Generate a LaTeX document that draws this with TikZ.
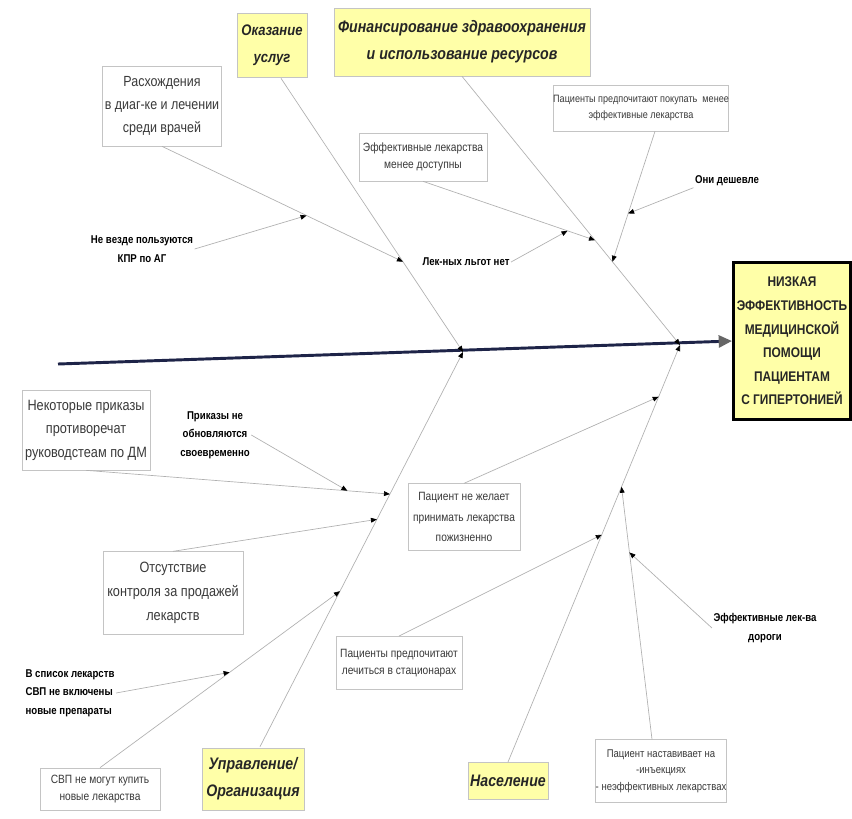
\documentclass[tikz,border=0pt]{standalone}
\usepackage{fontspec}
\setmainfont{Liberation Sans}
\newfontfamily\nar{Liberation Sans}[FakeStretch=0.85]
\usetikzlibrary{arrows.meta,calc}
\definecolor{lineg}{HTML}{B0B0B0}
\definecolor{boxg}{HTML}{C4C4C4}
\definecolor{txtg}{HTML}{3A3A3A}
\definecolor{yel}{HTML}{FFFFA8}
\definecolor{spinec}{HTML}{1E2448}
\begin{document}
\begin{tikzpicture}[x=0.75pt,y=-0.75pt,
  bbox/.style={draw=boxg, line width=0.5pt, fill=white, align=center, inner sep=0pt, text=txtg, font=\nar\fontsize{11.5}{17.5}\selectfont},
  sbox/.style={bbox, font=\nar\fontsize{9}{13}\selectfont},
  blab/.style={align=center, inner sep=1pt, text=black, font=\nar\bfseries\fontsize{8.5}{14}\selectfont},
  cat/.style={draw=boxg, line width=0.5pt, fill=yel, align=center, inner sep=0pt, text=black!85, font=\nar\bfseries\itshape\fontsize{12.5}{20}\selectfont},
  conn/.style={draw=lineg, line width=0.5pt, -{Triangle[length=4.5pt,width=3.6pt,color=black]}},
  spine/.style={draw=spinec, line width=2.2pt, -{Triangle[length=10pt,width=9pt,color=black!60]}}
]
\fill[white] (0,0) rectangle (852,818);
\useasboundingbox (0,0) rectangle (852,818);

% effect
\node[draw=black, line width=2pt, fill=yel, align=center, inner sep=0pt, minimum width=88pt, minimum height=118pt, font=\nar\bfseries\fontsize{10.5}{17.7}\selectfont, text=black!85] (eff) at (792,341)
  {НИЗКАЯ\\ЭФФЕКТИВНОСТЬ\\МЕДИЦИНСКОЙ\\ПОМОЩИ\\ПАЦИЕНТАМ\\С ГИПЕРТОНИЕЙ};

% categories
\node[cat, minimum width=52.5pt, minimum height=48pt, font=\nar\bfseries\itshape\fontsize{11.5}{20}\selectfont] (oz) at (272,45) {Оказание\\услуг};
\node[cat, minimum width=192pt, minimum height=51pt] (fin) at (462,42) {Финансирование здравоохранения\\и использование ресурсов};
\node[cat, minimum width=76.5pt, minimum height=46.5pt] (up) at (253,779) {Управление/\\Организация};
\node[cat, minimum width=60pt, minimum height=28pt] (nas) at (508,781) {Население};

% cause boxes
\node[bbox, minimum width=89pt, minimum height=60pt, font=\nar\fontsize{11}{17.5}\selectfont] (r1) at (162,106) {Расхождения\\в диаг-ке и лечении\\среди врачей};
\node[sbox, minimum width=96pt, minimum height=36pt] (el) at (423,157) {Эффективные лекарства\\менее доступны};
\node[sbox, minimum width=129pt, minimum height=34.5pt, font=\nar\fontsize{8}{11.5}\selectfont] (pp) at (641,108) {Пациенты предпочитают покупать\ \ менее\\эффективные лекарства};
\node[bbox, minimum width=96pt, minimum height=60pt, font=\nar\fontsize{11.2}{17.6}\selectfont] (nk) at (86,430) {Некоторые приказы\\противоречат\\руководстеам по ДМ};
\node[bbox, minimum width=105pt, minimum height=62pt, font=\nar\fontsize{11.2}{18}\selectfont] (ot) at (173,593) {Отсутствие\\контроля за продажей\\лекарств};
\node[sbox, minimum width=90pt, minimum height=31.5pt] (sv) at (100,789) {СВП не могут купить\\новые лекарства};
\node[sbox, minimum width=84pt, minimum height=50pt, font=\nar\fontsize{9}{15.5}\selectfont] (pn) at (464,517) {Пациент не желает\\принимать лекарства\\пожизненно};
\node[sbox, minimum width=94.5pt, minimum height=40pt] (pl) at (399,663) {Пациенты предпочитают\\лечиться в стационарах};
\node[sbox, minimum width=97pt, minimum height=47pt, font=\nar\fontsize{8.4}{12.5}\selectfont] (pi) at (661,771) {Пациент наставивает на\\-инъекциях\\- неэффективных лекарствах};

% bold labels
\node[blab] (nv) at (142,249) {Не везде пользуются\\КПР по АГ};
\node[blab] (ln) at (466,262) {Лек-ных льгот нет};
\node[blab] (od) at (727,181) {Они дешевле};
\node[blab] (pr) at (215,435) {Приказы не\\обновляются\\своевременно};
\node[blab, align=left] (vs) at (70,693) {В список лекарств\\СВП не включены\\новые препараты};
\node[blab] (ed) at (765,628) {Эффективные лек-ва\\дороги};

% spine
\coordinate (sL) at (58,364);
\draw[spine] (sL) -- (eff.west);
\coordinate (J1) at (463,352);
\coordinate (J2) at (680,345);

% bones
\coordinate (ozs) at ($(oz.south)+(9,1)$);
\coordinate (ups) at ($(up.north)+(7,-1)$);
\draw[conn] (ozs) -- (J1);
\draw[conn] (fin.south) -- (J2);
\draw[conn] (ups) -- (J1);
\draw[conn] (nas.north) -- (J2);

% top-left branch
\coordinate (a1) at ($(ozs)!0.67!(J1)$);
\draw[conn] (r1.south) -- (a1);
\coordinate (a2) at ($(r1.south)!0.6!(a1)$);
\draw[conn] (nv.east) -- (a2);

% top-right branch
\coordinate (b1) at ($(fin.south)!0.61!(J2)$);
\draw[conn] (el.south) -- (b1);
\coordinate (b2) at ($(el.south)!0.84!(b1)$);
\draw[conn] (ln.east) -- (b2);
\coordinate (pps) at ($(pp.south)+(14,0)$);
\coordinate (b3) at ($(fin.south)!0.69!(J2)$);
\draw[conn] (pps) -- (b3);
\coordinate (b4) at ($(pps)!0.63!(b3)$);
\draw[conn] (od.south west) -- (b4);

% bottom-left branch
\coordinate (c1) at ($(ups)!0.64!(J1)$);
\draw[conn] (nk.south) -- (c1);
\coordinate (c2) at ($(nk.south)!0.86!(c1)$);
\draw[conn] (pr.east) -- (c2);
\coordinate (c3) at ($(ups)!0.576!(J1)$);
\draw[conn] (ot.north) -- (c3);
\coordinate (c4) at ($(ups)!0.394!(J1)$);
\draw[conn] (sv.north) -- (c4);
\coordinate (c5) at ($(sv.north)!0.54!(c4)$);
\draw[conn] (vs.east) -- (c5);

% bottom-right branch
\coordinate (d1) at ($(nas.north)!0.876!(J2)$);
\draw[conn] (pn.north) -- (d1);
\coordinate (d2) at ($(nas.north)!0.545!(J2)$);
\draw[conn] (pl.north) -- (d2);
\coordinate (pin) at ($(pi.north)+(-9,0)$);
\coordinate (d3) at ($(nas.north)!0.66!(J2)$);
\draw[conn] (pin) -- (d3);
\coordinate (d4) at ($(pin)!0.74!(d3)$);
\draw[conn] (ed.west) -- (d4);
\end{tikzpicture}
\end{document}
